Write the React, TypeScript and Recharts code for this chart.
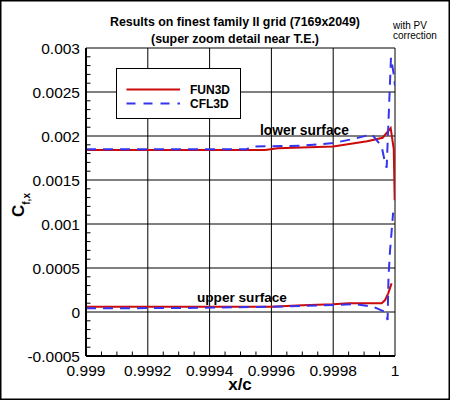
import React from 'react';
import { LineChart, Line, XAxis, YAxis, ReferenceLine } from 'recharts';

// ---- axis ticks ----
const xTicks = [0.999, 0.9992, 0.9994, 0.9996, 0.9998, 1];
const xTickLabels = ['0.999', '0.9992', '0.9994', '0.9996', '0.9998', '1'];
const xMinorTicks = [
  0.99905, 0.9991, 0.99915, 0.99925, 0.9993, 0.99935, 0.99945, 0.9995, 0.99955,
  0.99965, 0.9997, 0.99975, 0.99985, 0.9999, 0.99995,
];
const yTicks = [-0.0005, 0, 0.0005, 0.001, 0.0015, 0.002, 0.0025, 0.003];
const yTickLabels = ['-0.0005', '0', '0.0005', '0.001', '0.0015', '0.002', '0.0025', '0.003'];
const yMinorTicks = [
  -0.0004, -0.0003, -0.0002, -0.0001, 0.0001, 0.0002, 0.0003, 0.0004, 0.0006, 0.0007,
  0.0008, 0.0009, 0.0011, 0.0012, 0.0013, 0.0014, 0.0016, 0.0017, 0.0018, 0.0019,
  0.0021, 0.0022, 0.0023, 0.0024, 0.0026, 0.0027, 0.0028, 0.0029,
];

// ---- FUN3D lower surface ----
const funLowerX = [0.999, 0.99958, 0.99962, 0.9998, 0.99991, 0.99996, 0.999986, 0.999996, 0.999999];
const funLowerCf = [0.00184, 0.00184, 0.00186, 0.00188, 0.00194, 0.00198, 0.00209, 0.00185, 0.00127];

// ---- FUN3D upper surface ----
const funUpperX = [0.999, 0.9996, 0.9997, 0.9998, 0.99985, 0.999957, 0.999968, 0.999978, 0.999989];
const funUpperCf = [0.00006, 0.00006, 0.000076, 0.000087, 0.0001, 0.0001, 0.000136, 0.000212, 0.000326];

// ---- CFL3D lower surface ----
const cflLowerX = [
  0.999, 0.99952, 0.99954, 0.9997, 0.9998, 0.99987, 0.999925, 0.999957, 0.999968, 0.999973,
  0.999987, 0.999995, 1.0,
];
const cflLowerCf = [
  0.00185, 0.00185, 0.00188, 0.00189, 0.00192, 0.00197, 0.00202, 0.00188, 0.00169, 0.00164,
  0.00289, 0.00272, 0.00257,
];

// ---- CFL3D upper surface ----
const cflUpperX = [
  0.999, 0.99933, 0.9996, 0.9998, 0.99987, 0.999929, 0.999968, 0.999974, 0.999976, 0.999979,
  0.999984, 0.999994,
];
const cflUpperCf = [
  0.000042, 0.000046, 0.00006, 0.00008, 0.00009, 0.00006, 0.0, -0.00007, -0.00009, 0.0004,
  0.0007, 0.00113,
];

const toRows = (xs: number[], ys: number[]) => xs.map((x, i) => ({ x, cf: ys[i] }));
const funLower = toRows(funLowerX, funLowerCf);
const funUpper = toRows(funUpperX, funUpperCf);
const cflLower = toRows(cflLowerX, cflLowerCf);
const cflUpper = toRows(cflUpperX, cflUpperCf);

const RED = '#cc0a0a';
const BLUE = '#3434f0';
const FONT = '"Liberation Sans", Arial, Helvetica, sans-serif';

const X_DOMAIN: [number, number] = [0.999, 1];
const Y_DOMAIN: [number, number] = [-0.0005, 0.003];
// minor tick lengths (~4.5px) expressed in axis units
const X_TICK_LEN = 0.0000146;
const Y_TICK_LEN = 0.000051;

const lookup = (ticks: number[], labels: string[]) => (v: number) => {
  const i = ticks.findIndex((t) => Math.abs(t - v) < 1e-12);
  return i >= 0 ? labels[i] : String(v);
};

export default function App() {
  return (
    <div style={{ position: 'absolute', left: 0, top: 0, width: 450, height: 401, background: '#fff', fontFamily: FONT }}>
      <LineChart width={450} height={401} margin={{ top: 48, right: 55, bottom: 0, left: 0 }}>
        {xTicks.map((v) => (
          <ReferenceLine key={`gx${v}`} x={v} stroke="#000" strokeWidth={1} />
        ))}
        {yTicks.map((v) => (
          <ReferenceLine key={`gy${v}`} y={v} stroke="#000" strokeWidth={1} />
        ))}
        {xMinorTicks.map((v) => (
          <ReferenceLine
            key={`mx${v}`}
            segment={[{ x: v, y: Y_DOMAIN[0] }, { x: v, y: Y_DOMAIN[0] + Y_TICK_LEN }]}
            stroke="#000"
            strokeWidth={1}
          />
        ))}
        {yMinorTicks.map((v) => (
          <ReferenceLine
            key={`my${v}`}
            segment={[{ x: X_DOMAIN[0], y: v }, { x: X_DOMAIN[0] + X_TICK_LEN, y: v }]}
            stroke="#000"
            strokeWidth={1}
          />
        ))}
        <XAxis type="number" dataKey="x" domain={X_DOMAIN} allowDataOverflow ticks={xTicks} interval={0}
          tickFormatter={lookup(xTicks, xTickLabels)} height={45} tickLine={false} tickSize={0} tickMargin={9}
          axisLine={{ stroke: '#000', strokeWidth: 2 }} tick={{ fill: '#000', fontSize: 15.5, fontFamily: FONT }} />
        <YAxis type="number" dataKey="cf" domain={Y_DOMAIN} allowDataOverflow ticks={yTicks} interval={0}
          tickFormatter={lookup(yTicks, yTickLabels)} width={86} tickLine={false} tickSize={0} tickMargin={6}
          axisLine={{ stroke: '#000', strokeWidth: 2 }} tick={{ fill: '#000', fontSize: 15.5, fontFamily: FONT }} />
        <Line data={funLower} dataKey="cf" type="linear" stroke={RED} strokeWidth={2} dot={false} isAnimationActive={false} />
        <Line data={funUpper} dataKey="cf" type="linear" stroke={RED} strokeWidth={2} dot={false} isAnimationActive={false} />
        <Line data={cflLower} dataKey="cf" type="linear" stroke={BLUE} strokeWidth={2} strokeDasharray="10 7" dot={false} isAnimationActive={false} />
        <Line data={cflUpper} dataKey="cf" type="linear" stroke={BLUE} strokeWidth={2} strokeDasharray="10 7" dot={false} isAnimationActive={false} />
      </LineChart>
      <svg width={450} height={401} style={{ position: 'absolute', left: 0, top: 0, pointerEvents: 'none' }} fontFamily={FONT}>
        <rect x={0.75} y={0.75} width={448.5} height={398.5} fill="none" stroke="#000" strokeWidth={1.5} />
        <text x={235} y={26} textAnchor="middle" fontSize={12.4} fontWeight="bold" fill="#000">
          Results on finest family II grid (7169x2049)
        </text>
        <text x={235} y={43} textAnchor="middle" fontSize={12.4} fontWeight="bold" fill="#000">
          (super zoom detail near T.E.)
        </text>
        <text x={393} y={29} fontSize={10} fill="#000">with PV</text>
        <text x={393} y={39} fontSize={10} fill="#000">correction</text>
        <text x={260} y={135} fontSize={13.8} fontWeight="bold" fill="#000">lower surface</text>
        <text x={197} y={301.5} fontSize={13.6} fontWeight="bold" fill="#000">upper surface</text>
        <text x={240} y={390} textAnchor="middle" fontSize={17} fontWeight="bold" fill="#000">x/c</text>
        <text transform="translate(24,217) rotate(-90)" fill="#000" fontWeight="bold">
          <tspan fontSize={17}>C</tspan>
          <tspan fontSize={10} dy={6}>f,x</tspan>
        </text>
        <rect x={116.5} y={68.5} width={124} height={50} fill="#fff" stroke="#000" strokeWidth={1} />
        <line x1={126.5} y1={89.5} x2={180} y2={89.5} stroke={RED} strokeWidth={2} />
        <line x1={126.5} y1={103.5} x2={180} y2={103.5} stroke={BLUE} strokeWidth={2} strokeDasharray="9 8" />
        <text x={190} y={94} fontSize={12} fontWeight="bold" fill="#000">FUN3D</text>
        <text x={190} y={108} fontSize={12} fontWeight="bold" fill="#000">CFL3D</text>
      </svg>
    </div>
  );
}
